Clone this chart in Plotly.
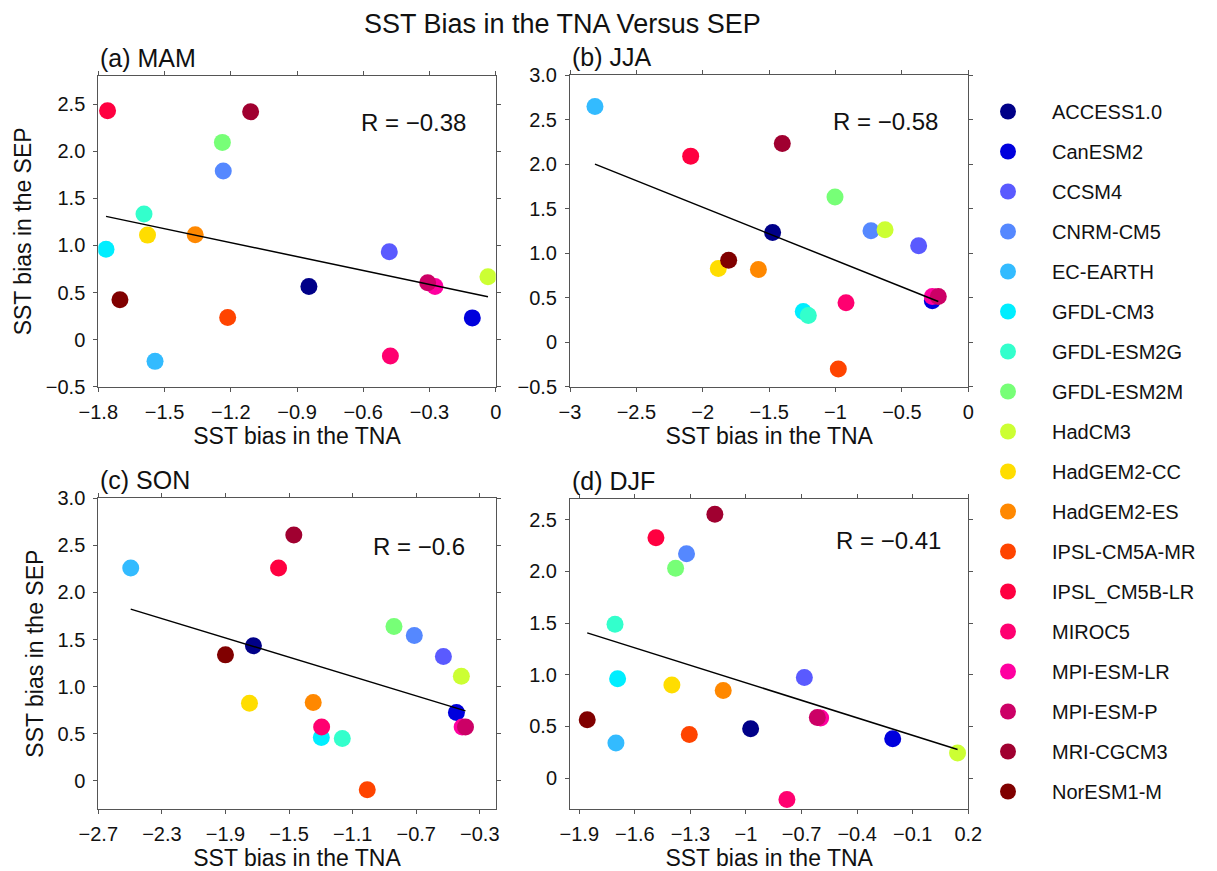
import numpy as np
import plotly.graph_objects as go

# ---------------- data ----------------
models = ["ACCESS1.0", "CanESM2", "CCSM4", "CNRM-CM5", "EC-EARTH", "GFDL-CM3",
          "GFDL-ESM2G", "GFDL-ESM2M", "HadCM3", "HadGEM2-CC", "HadGEM2-ES",
          "IPSL-CM5A-MR", "IPSL_CM5B-LR", "MIROC5", "MPI-ESM-LR", "MPI-ESM-P",
          "MRI-CGCM3", "NorESM1-M"]
colors = ["#000088", "#0000dd", "#5a5aff", "#5588ff", "#33bbff", "#00eeff",
          "#33ffcc", "#77ff77", "#ccff33", "#ffdd00", "#ff8800", "#ff4400",
          "#ff0040", "#ff0070", "#ff00a0", "#cc0066", "#a00030", "#800000"]

# MAM
mam_tna = [-0.846, -0.106, -0.482, -1.234, -1.543, -1.765, -1.593, -1.238, -0.035,
           -1.577, -1.361, -1.214, -1.758, -0.477, -0.275, -0.308, -1.110, -1.702]
mam_sep = [0.565, 0.231, 0.934, 1.79, -0.231, 0.96, 1.335, 2.095, 0.668,
           1.11, 1.115, 0.234, 2.43, -0.174, 0.565, 0.604, 2.42, 0.423]
# JJA
jja_tna = [-1.474, -0.271, -0.374, -0.733, -2.812, -1.243, -1.205, -1.004, -0.627,
           -1.883, -1.581, -0.979, -2.091, -0.921, -0.271, -0.226, -1.401, -1.805]
jja_sep = [1.232, 0.464, 1.082, 1.250, 2.647, 0.344, 0.30, 1.629, 1.262,
           0.827, 0.816, -0.30, 2.089, 0.442, 0.513, 0.513, 2.231, 0.921]
# SON
son_tna = [-1.724, -0.447, -0.529, -0.712, -2.496, -1.297, -1.165, -0.840, -0.416,
           -1.749, -1.348, -1.008, -1.566, -1.295, -0.411, -0.390, -1.470, -1.900]
son_sep = [1.433, 0.725, 1.319, 1.542, 2.260, 0.460, 0.449, 1.638, 1.111,
           0.824, 0.831, -0.096, 2.260, 0.570, 0.570, 0.570, 2.611, 1.337]
# DJF
djf_tna = [-0.975, -0.208, -0.685, -1.321, -1.702, -1.693, -1.707, -1.380, 0.142,
           -1.400, -1.123, -1.306, -1.486, -0.779, -0.597, -0.615, -1.168, -1.857]
djf_sep = [0.477, 0.380, 0.973, 2.171, 0.338, 0.960, 1.488, 2.030, 0.242,
           0.899, 0.847, 0.422, 2.326, -0.209, 0.580, 0.586, 2.552, 0.564]

seasons = ["(a) MAM", "(b) JJA", "(c) SON", "(d) DJF"]
r_labels = ["R = \u22120.38", "R = \u22120.58", "R = \u22120.6", "R = \u22120.41"]

x_ranges = [[-1.8, 0.0], [-3.0, 0.0], [-2.7, -0.2], [-1.95, 0.2]]
y_ranges = [[-0.5, 2.8], [-0.5, 3.0], [-0.3, 3.0], [-0.3, 2.7]]

x_ticks = [[-1.8, -1.5, -1.2, -0.9, -0.6, -0.3, 0],
           [-3, -2.5, -2, -1.5, -1, -0.5, 0],
           [-2.7, -2.3, -1.9, -1.5, -1.1, -0.7, -0.3],
           [-1.9, -1.6, -1.3, -1, -0.7, -0.4, -0.1, 0.2]]
x_ticktext = [["\u22121.8", "\u22121.5", "\u22121.2", "\u22120.9", "\u22120.6", "\u22120.3", "0"],
              ["\u22123", "\u22122.5", "\u22122", "\u22121.5", "\u22121", "\u22120.5", "0"],
              ["\u22122.7", "\u22122.3", "\u22121.9", "\u22121.5", "\u22121.1", "\u22120.7", "\u22120.3"],
              ["\u22121.9", "\u22121.6", "\u22121.3", "\u22121", "\u22120.7", "\u22120.4", "\u22120.1", "0.2"]]
y_ticks = [[-0.5, 0, 0.5, 1.0, 1.5, 2.0, 2.5],
           [-0.5, 0, 0.5, 1.0, 1.5, 2.0, 2.5, 3.0],
           [0, 0.5, 1.0, 1.5, 2.0, 2.5, 3.0],
           [0, 0.5, 1.0, 1.5, 2.0, 2.5]]
y_ticktext = [["\u22120.5", "0", "0.5", "1.0", "1.5", "2.0", "2.5"],
              ["\u22120.5", "0", "0.5", "1.0", "1.5", "2.0", "2.5", "3.0"],
              ["0", "0.5", "1.0", "1.5", "2.0", "2.5", "3.0"],
              ["0", "0.5", "1.0", "1.5", "2.0", "2.5"]]

all_x = [mam_tna, jja_tna, son_tna, djf_tna]
all_y = [mam_sep, jja_sep, son_sep, djf_sep]

# ---------------- layout geometry ----------------
OFF = 8                     # default page body margin
W, H = 1217 - OFF, 871 - OFF
FONT = "Arial, 'Liberation Sans', sans-serif"


def px(xp):
    return (xp - OFF) / W


def py(yp):
    return 1 - (yp - OFF) / H


px_boxes = [(98.3, 495.7, 76, 386.7), (570, 968.3, 75, 386.7),
            (98.3, 495.7, 498.3, 809), (570, 968.3, 499, 809)]

fig = go.Figure()

for k in range(4):
    xa = "x" if k == 0 else f"x{k+1}"
    ya = "y" if k == 0 else f"y{k+1}"
    xs, ys = all_x[k], all_y[k]
    for i, m in enumerate(models):
        fig.add_trace(go.Scatter(
            x=[xs[i]], y=[ys[i]], mode="markers", name=m,
            legendgroup=m, showlegend=(k == 0),
            marker=dict(color=colors[i], size=17, line=dict(width=0)),
            xaxis=xa, yaxis=ya, hoverinfo="name+x+y"))
    # least-squares fit line over the data range
    xa_arr, ya_arr = np.array(xs), np.array(ys)
    slope, icpt = np.polyfit(xa_arr, ya_arr, 1)
    xl = np.array([xa_arr.min(), xa_arr.max()])
    fig.add_trace(go.Scatter(x=xl, y=slope * xl + icpt, mode="lines",
                             line=dict(color="black", width=1.5),
                             showlegend=False, hoverinfo="skip",
                             xaxis=xa, yaxis=ya))

axis_common = dict(showline=True, mirror="ticks", linecolor="#555555", linewidth=1,
                   ticks="outside", ticklen=4, tickcolor="#555555", tickwidth=1,
                   showgrid=False, zeroline=False, automargin=False,
                   tickfont=dict(family=FONT, size=20, color="#111111"))

annotations = []
for k in range(4):
    x0, x1, y0, y1 = px_boxes[k]
    xkey = "xaxis" if k == 0 else f"xaxis{k+1}"
    ykey = "yaxis" if k == 0 else f"yaxis{k+1}"
    ykey_anchor = "y" if k == 0 else f"y{k+1}"
    xkey_anchor = "x" if k == 0 else f"x{k+1}"
    fig.layout[xkey] = dict(axis_common, domain=[px(x0), px(x1)], range=x_ranges[k],
                            tickvals=x_ticks[k], ticktext=x_ticktext[k],
                            anchor=ykey_anchor, ticklabelstandoff=3,
                            title=dict(text="SST bias in the TNA", standoff=4,
                                       font=dict(family=FONT, size=23, color="#111111")))
    ydict = dict(axis_common, domain=[py(y1), py(y0)], range=y_ranges[k],
                 tickvals=y_ticks[k], ticktext=y_ticktext[k],
                 anchor=xkey_anchor, ticklabelstandoff=4)
    if k in (0, 2):
        ydict["title"] = dict(text="SST bias in the SEP", standoff=7,
                              font=dict(family=FONT, size=23, color="#111111"))
    fig.layout[ykey] = ydict
    # panel title
    annotations.append(dict(text=seasons[k], x=px(x0), y=py(y0 - 18),
                            xref="paper", yref="paper", xanchor="left", yanchor="middle",
                            showarrow=False, font=dict(family=FONT, size=25, color="#111111")))

r_pos = [(468, 123), (940, 121), (467, 546), (943, 540)]
for k in range(4):
    rx, ry = r_pos[k]
    annotations.append(dict(text=r_labels[k], x=px(rx), y=py(ry),
                            xref="paper", yref="paper", xanchor="right", yanchor="middle",
                            showarrow=False, font=dict(family=FONT, size=24, color="#111111")))

annotations.append(dict(text="SST Bias in the TNA Versus SEP", x=px(363), y=py(OFF),
                        xref="paper", yref="paper", xanchor="left", yanchor="top",
                        borderpad=0,
                        showarrow=False, font=dict(family=FONT, size=27, color="#111111")))

fig.update_layout(
    width=W, height=H, margin=dict(l=0, r=0, t=0, b=0, autoexpand=False),
    paper_bgcolor="white", plot_bgcolor="white",
    annotations=annotations,
    legend=dict(x=px(964), y=py(92), xanchor="left", yanchor="top",
                font=dict(family=FONT, size=20, color="#111111"),
                tracegroupgap=11, itemwidth=78, bgcolor="rgba(0,0,0,0)"),
    font=dict(family=FONT),
)

fig.write_html("out.html")
